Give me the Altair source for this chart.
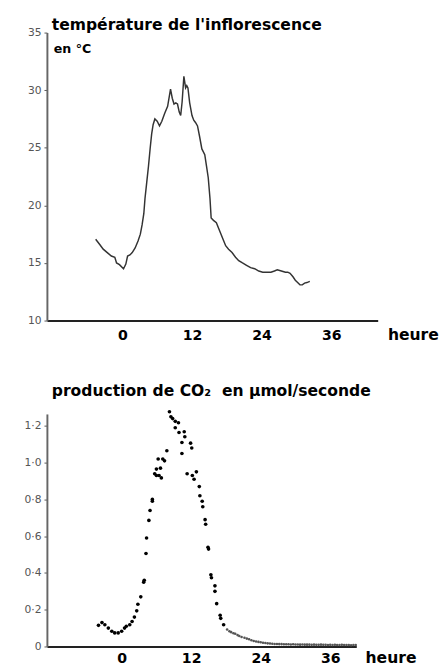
import altair as alt
import pandas as pd

# ---- data ----
hours_temp = [-4.6, -3.9, -3.3, -2.6, -1.9, -1.3, -1.0, -0.5, 0.2, 0.6,
              0.9, 1.3, 1.7, 2.2, 2.7, 3.1, 3.4, 3.7, 3.9, 4.2,
              4.5, 4.8, 5.05, 5.3, 5.6, 6.0, 6.4, 6.8, 7.3, 7.8,
              8.3, 8.6, 8.9, 9.2, 9.5, 9.8, 10.05, 10.3, 10.6, 10.9,
              11.1, 11.3, 11.6, 12.0, 12.3, 12.6, 12.95, 13.3, 13.7, 14.2,
              14.5, 14.8, 15.1, 15.3, 15.7, 16.2, 16.6, 17.0, 17.4, 17.8,
              18.3, 18.9, 19.5, 20.05, 20.7, 21.4, 22.1, 22.8, 23.5, 24.2,
              24.9, 25.6, 26.2, 26.7, 27.4, 28.1, 28.5, 28.9, 29.4, 29.8,
              30.2, 30.6, 31.0, 31.4, 31.8, 32.3]
temp_c = [17.06, 16.6, 16.2, 15.9, 15.6, 15.5, 15.0, 14.85, 14.5, 14.9,
          15.6, 15.7, 15.9, 16.3, 16.9, 17.5, 18.3, 19.3, 20.6, 22.0,
          23.4, 25.0, 26.2, 27.0, 27.5, 27.3, 26.9, 27.3, 28.0, 28.6,
          30.1, 29.3, 28.8, 28.9, 28.8, 28.1, 27.8, 29.0, 31.2, 30.2,
          30.4, 30.2, 28.9, 27.8, 27.4, 27.2, 26.9, 26.0, 24.9, 24.4,
          23.4, 22.4, 20.6, 18.9, 18.7, 18.5, 18.0, 17.5, 17.0, 16.5,
          16.2, 15.9, 15.5, 15.2, 15.0, 14.8, 14.6, 14.5, 14.3, 14.2,
          14.2, 14.2, 14.3, 14.4, 14.3, 14.2, 14.2, 14.1, 13.8, 13.5,
          13.3, 13.1, 13.1, 13.25, 13.3, 13.4]

co2_hours = [-4.0, -3.4, -2.9, -2.3, -1.7, -1.2, -0.6, 0.0, 0.5, 0.8,
             1.4, 1.8, 2.2, 2.6, 2.8, 3.3, 3.8, 3.9, 4.2, 4.3,
             4.7, 4.9, 5.3, 5.3, 5.7, 6.0, 6.0, 6.3, 6.45, 6.7,
             6.85, 7.1, 7.4, 7.8, 8.25, 8.5, 8.8, 9.25, 9.25, 9.8,
             9.9, 10.4, 10.4, 10.8, 10.9, 11.3, 11.9, 12.1, 12.2, 12.5,
             12.9, 13.4, 13.5, 13.9, 14.0, 14.4, 14.5, 14.9, 15.0, 15.4,
             15.5, 16.1, 16.1, 16.4, 17.0, 17.1, 17.6]
co2_values = [0.115, 0.13, 0.118, 0.10, 0.083, 0.074, 0.074, 0.083, 0.10, 0.11,
              0.118, 0.136, 0.16, 0.194, 0.23, 0.27, 0.35, 0.36, 0.506, 0.59,
              0.686, 0.74, 0.79, 0.80, 0.94, 0.965, 0.93, 1.02, 0.93, 0.97,
              0.917, 1.02, 1.01, 1.065, 1.277, 1.25, 1.24, 1.225, 1.19, 1.217,
              1.164, 1.11, 1.05, 1.168, 1.141, 0.94, 1.106, 1.08, 0.93, 0.91,
              0.95, 0.87, 0.82, 0.79, 0.76, 0.69, 0.665, 0.54, 0.53, 0.39,
              0.374, 0.33, 0.30, 0.233, 0.17, 0.153, 0.118]

tail_hours = [18.2, 18.6, 18.9, 19.3, 19.6, 20.0, 20.3, 20.7, 21.2, 21.6,
              22.0, 22.4, 22.8, 23.2, 23.6, 24.0, 24.4, 24.8, 25.2, 25.6,
              26.0, 26.4, 26.8, 27.2, 27.6, 28.0, 28.4, 28.8, 29.2, 29.6,
              30.0, 30.4, 30.8, 31.2, 31.6, 32.0, 32.4, 32.8, 33.2, 33.6,
              34.0, 34.4, 34.8, 35.2, 35.6, 36.0, 36.4, 36.8, 37.2, 37.6,
              38.0, 38.4, 38.8, 39.2, 39.6, 40.0, 40.4]
tail_values = [0.092, 0.083, 0.078, 0.072, 0.069, 0.062, 0.057, 0.052, 0.048, 0.043,
               0.039, 0.034, 0.030, 0.027, 0.025, 0.023, 0.020, 0.019, 0.017, 0.016,
               0.015, 0.014, 0.014, 0.013, 0.013, 0.012, 0.012, 0.012, 0.011, 0.012,
               0.011, 0.011, 0.010, 0.011, 0.010, 0.010, 0.010, 0.009, 0.010, 0.009,
               0.009, 0.010, 0.009, 0.009, 0.008, 0.009, 0.008, 0.009, 0.008, 0.008,
               0.009, 0.008, 0.008, 0.008, 0.007, 0.008, 0.008]

x_ticks = [0, 12, 24, 36]
temp_ticks = [10, 15, 20, 25, 30, 35]
co2_ticks = [0, 0.2, 0.4, 0.6, 0.8, 1.0, 1.2]

temp_title = "température de l'inflorescence"
temp_unit = "en °C"
co2_title = "production de CO₂\u00a0\u00a0en µmol/seconde"
x_title = "heure"

FONT = "DejaVu Sans"

temp_df = pd.DataFrame({"heure": hours_temp, "temp": temp_c})
co2_df = pd.DataFrame({"heure": co2_hours, "co2": co2_values})
tail_df = pd.DataFrame({"heure": tail_hours, "co2": tail_values})


def x_axis(title_x, base):
    return alt.Axis(values=x_ticks, title=x_title, titleX=title_x, titleY=base,
                    titleAlign="left", titleBaseline="alphabetic", titleFont=FONT,
                    titleFontSize=16, titleFontWeight="bold", titleColor="black",
                    labelFont=FONT, labelFontSize=14.5, labelFontWeight="bold",
                    labelColor="black", labelBaseline="alphabetic", labelPadding=base,
                    tickSize=0, domainColor="#222", domainWidth=2, grid=False)


def y_axis(values, label_expr=None):
    kw = dict(values=values, title=None, labelFont=FONT, labelFontSize=11,
              labelColor="#555", tickSize=3, tickColor="#555", labelPadding=3,
              domainColor="#666", domainWidth=2, minExtent=40, maxExtent=40,
              grid=False)
    if label_expr:
        kw["labelExpr"] = label_expr
    return alt.Axis(**kw)


def label(txt, x, y, size):
    return alt.Chart(pd.DataFrame({"t": [txt]})).mark_text(
        align="left", baseline="alphabetic", font=FONT, fontSize=size,
        fontWeight="bold", color="black").encode(
        x=alt.value(x), y=alt.value(y), text="t:N")


# ---- top chart: temperature ----
x_top = alt.X("heure:Q", scale=alt.Scale(domain=[-13, 44], nice=False, zero=False),
              axis=x_axis(350, 19))
y_top = alt.Y("temp:Q", scale=alt.Scale(domain=[10, 35], nice=False, zero=False),
              axis=y_axis(temp_ticks))

line = alt.Chart(temp_df).mark_line(color="#333", strokeWidth=1.5).encode(x=x_top, y=y_top)

top = alt.layer(
    line,
    label(temp_title, 5, -3, 16),
    label(temp_unit, 7, 21, 13),
).properties(width=340, height=296)

# ---- bottom chart: CO2 ----
x_bot = alt.X("heure:Q", scale=alt.Scale(domain=[-12.9, 40.5], nice=False, zero=False),
              axis=x_axis(327, 16))
y_bot = alt.Y("co2:Q", scale=alt.Scale(domain=[0, 1.265], nice=False, zero=False),
              axis=y_axis(co2_ticks,
                          "datum.value == 0 ? '0' : replace(format(datum.value, '.1f'), '.', '·')"))

pts = alt.Chart(co2_df).mark_circle(color="black", size=14, opacity=1).encode(x=x_bot, y=y_bot)
tail = alt.Chart(tail_df).mark_circle(color="#555", size=7, opacity=1).encode(x=x_bot, y=y_bot)

bottom = alt.layer(
    pts, tail,
    label(co2_title, 5, -18, 16),
).properties(width=318, height=239)

chart = alt.vconcat(top, bottom, spacing=43).properties(padding=0).configure_view(stroke=None)

chart.save("out.html", embed_options={"renderer": "svg", "actions": False})
